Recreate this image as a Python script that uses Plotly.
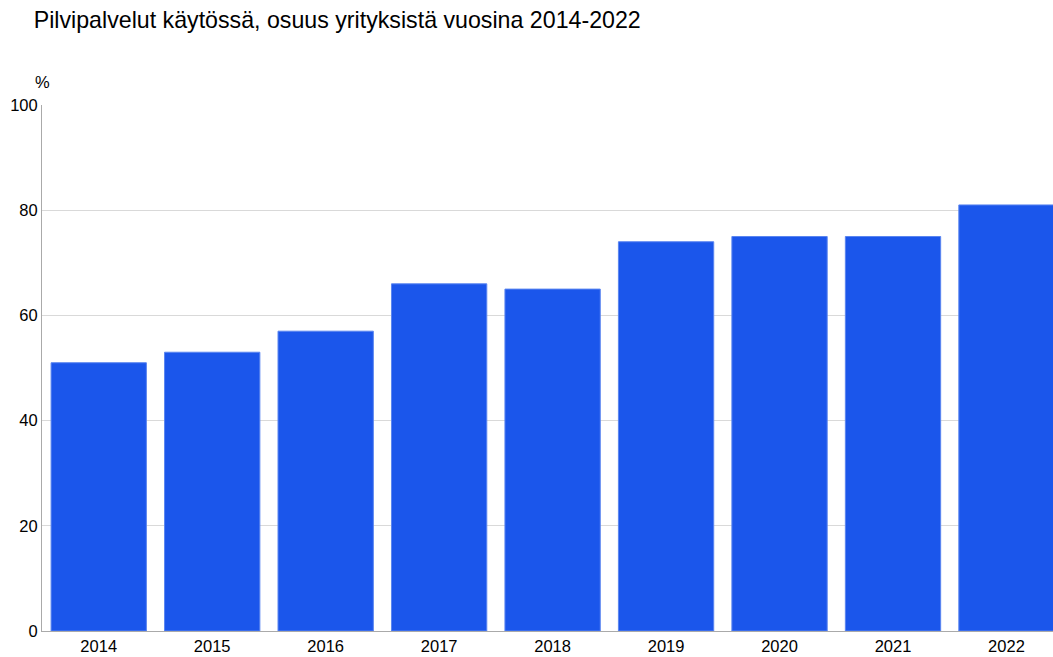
import plotly.graph_objects as go

years = ["2014", "2015", "2016", "2017", "2018", "2019", "2020", "2021", "2022"]
values = [51, 53, 57, 66, 65, 74, 75, 75, 81]
title_text = "Pilvipalvelut käytössä, osuus yrityksistä vuosina 2014-2022"
y_unit = "%"

fig = go.Figure()
fig.add_trace(go.Bar(
    x=years, y=values,
    marker=dict(color="#1b56eb", line=dict(color="#5a85f0", width=1)),
    hoverinfo="x+y",
))

fig.update_layout(
    width=1053, height=657,
    margin=dict(l=42, r=0, t=105, b=26),
    paper_bgcolor="white", plot_bgcolor="white",
    font=dict(family="Liberation Sans, Arial, sans-serif", size=16.5, color="#000"),
    title=dict(text=title_text, x=0.032, xanchor="left", y=0.97, yanchor="middle",
               font=dict(size=23.2, color="#000")),
    bargap=0.16,
    showlegend=False,
    annotations=[dict(text=y_unit, xref="paper", yref="paper", x=0, y=1,
                      xanchor="center", yanchor="bottom", xshift=0, yshift=12,
                      showarrow=False, font=dict(size=16.5, color="#000"))],
)
fig.update_xaxes(
    type="category", range=[-0.5, 8.41],
    showline=True, linecolor="#aaaaaa", linewidth=1,
    ticks="", showgrid=False, tickfont=dict(size=16.5),
)
fig.update_yaxes(
    range=[0, 100], tickvals=[0, 20, 40, 60, 80, 100],
    showline=True, linecolor="#aaaaaa", linewidth=1,
    gridcolor="#d9d9d9", gridwidth=1, ticks="", zeroline=False,
    tickfont=dict(size=16.5),
)

fig.write_html("out.html")
